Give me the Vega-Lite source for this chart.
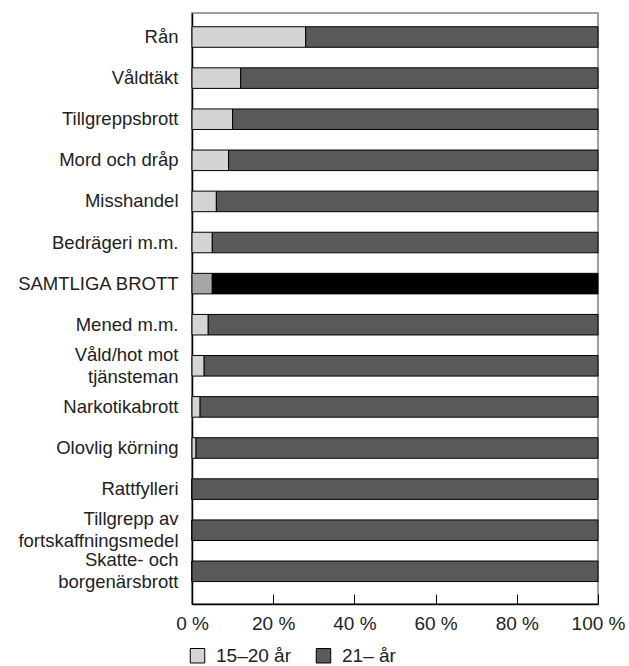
{
  "$schema": "https://vega.github.io/schema/vega-lite/v6.json",
  "autosize": "none",
  "padding": {"left": 192, "top": 13, "right": 31, "bottom": 62},
  "width": 406,
  "height": 591,
  "config": {
    "view": {"stroke": "#808080", "strokeWidth": 1.5},
    "font": "Liberation Sans",
    "axis": {"labelFont": "Liberation Sans", "labelFontSize": 18.5, "labelColor": "#222222", "domainColor": "#000000", "domainWidth": 1.5},
    "legend": {"labelFont": "Liberation Sans", "labelFontSize": 19, "labelColor": "#222222"}
  },
  "data": {
    "values": [
      {"brott": "Rån", "alder": "15–20 år", "andel": 28},
      {"brott": "Rån", "alder": "21– år", "andel": 72},
      {"brott": "Våldtäkt", "alder": "15–20 år", "andel": 12},
      {"brott": "Våldtäkt", "alder": "21– år", "andel": 88},
      {"brott": "Tillgreppsbrott", "alder": "15–20 år", "andel": 10},
      {"brott": "Tillgreppsbrott", "alder": "21– år", "andel": 90},
      {"brott": "Mord och dråp", "alder": "15–20 år", "andel": 9},
      {"brott": "Mord och dråp", "alder": "21– år", "andel": 91},
      {"brott": "Misshandel", "alder": "15–20 år", "andel": 6},
      {"brott": "Misshandel", "alder": "21– år", "andel": 94},
      {"brott": "Bedrägeri m.m.", "alder": "15–20 år", "andel": 5},
      {"brott": "Bedrägeri m.m.", "alder": "21– år", "andel": 95},
      {"brott": "SAMTLIGA BROTT", "alder": "15–20 år", "andel": 5},
      {"brott": "SAMTLIGA BROTT", "alder": "21– år", "andel": 95},
      {"brott": "Mened m.m.", "alder": "15–20 år", "andel": 4},
      {"brott": "Mened m.m.", "alder": "21– år", "andel": 96},
      {"brott": "Våld/hot mot|tjänsteman", "alder": "15–20 år", "andel": 3},
      {"brott": "Våld/hot mot|tjänsteman", "alder": "21– år", "andel": 97},
      {"brott": "Narkotikabrott", "alder": "15–20 år", "andel": 2},
      {"brott": "Narkotikabrott", "alder": "21– år", "andel": 98},
      {"brott": "Olovlig körning", "alder": "15–20 år", "andel": 1},
      {"brott": "Olovlig körning", "alder": "21– år", "andel": 99},
      {"brott": "Rattfylleri", "alder": "15–20 år", "andel": 0},
      {"brott": "Rattfylleri", "alder": "21– år", "andel": 100},
      {"brott": "Tillgrepp av|fortskaffningsmedel", "alder": "15–20 år", "andel": 0},
      {"brott": "Tillgrepp av|fortskaffningsmedel", "alder": "21– år", "andel": 100},
      {"brott": "Skatte- och|borgenärsbrott", "alder": "15–20 år", "andel": 0},
      {"brott": "Skatte- och|borgenärsbrott", "alder": "21– år", "andel": 100}
    ]
  },
  "mark": {"type": "bar", "stroke": "#000000", "strokeWidth": 1},
  "encoding": {
    "y": {
      "field": "brott",
      "type": "nominal",
      "sort": ["Rån", "Våldtäkt", "Tillgreppsbrott", "Mord och dråp", "Misshandel", "Bedrägeri m.m.", "SAMTLIGA BROTT", "Mened m.m.", "Våld/hot mot|tjänsteman", "Narkotikabrott", "Olovlig körning", "Rattfylleri", "Tillgrepp av|fortskaffningsmedel", "Skatte- och|borgenärsbrott"],
      "scale": {"paddingInner": 0.5, "paddingOuter": 0.44, "align": 0.38},
      "axis": {
        "title": null,
        "ticks": false,
        "labelPadding": 14,
        "labelExpr": "split(datum.value, '|')",
        "labelLineHeight": 22,
        "labelLimit": 300,
        "labelOffset": {"condition": {"test": "indexof(datum.value, '|') >= 0", "value": -11}, "value": 0}
      }
    },
    "x": {
      "field": "andel",
      "type": "quantitative",
      "stack": "zero",
      "scale": {"domain": [0, 100], "nice": false},
      "axis": {"title": null, "values": [0, 20, 40, 60, 80, 100], "tickSize": -10, "tickColor": "#000000", "labelPadding": 20, "labelFlush": false, "labelFontSize": 19, "labelExpr": "datum.value + ' %'", "grid": false}
    },
    "order": {"field": "alder", "type": "nominal"},
    "color": {
      "condition": [
        {"test": "datum.brott === 'SAMTLIGA BROTT' && datum.alder === '15–20 år'", "value": "#a6a6a6"},
        {"test": "datum.brott === 'SAMTLIGA BROTT' && datum.alder === '21– år'", "value": "#000000"}
      ],
      "field": "alder",
      "type": "nominal",
      "scale": {"domain": ["15–20 år", "21– år"], "range": ["#d4d4d4", "#58595b"]},
      "legend": {
        "title": null,
        "orient": "none",
        "legendX": -4,
        "legendY": 633,
        "direction": "horizontal",
        "symbolType": "square",
        "symbolSize": 210,
        "symbolStrokeColor": "#000000",
        "symbolStrokeWidth": 1,
        "columnPadding": 22,
        "labelOffset": 9
      }
    }
  }
}
